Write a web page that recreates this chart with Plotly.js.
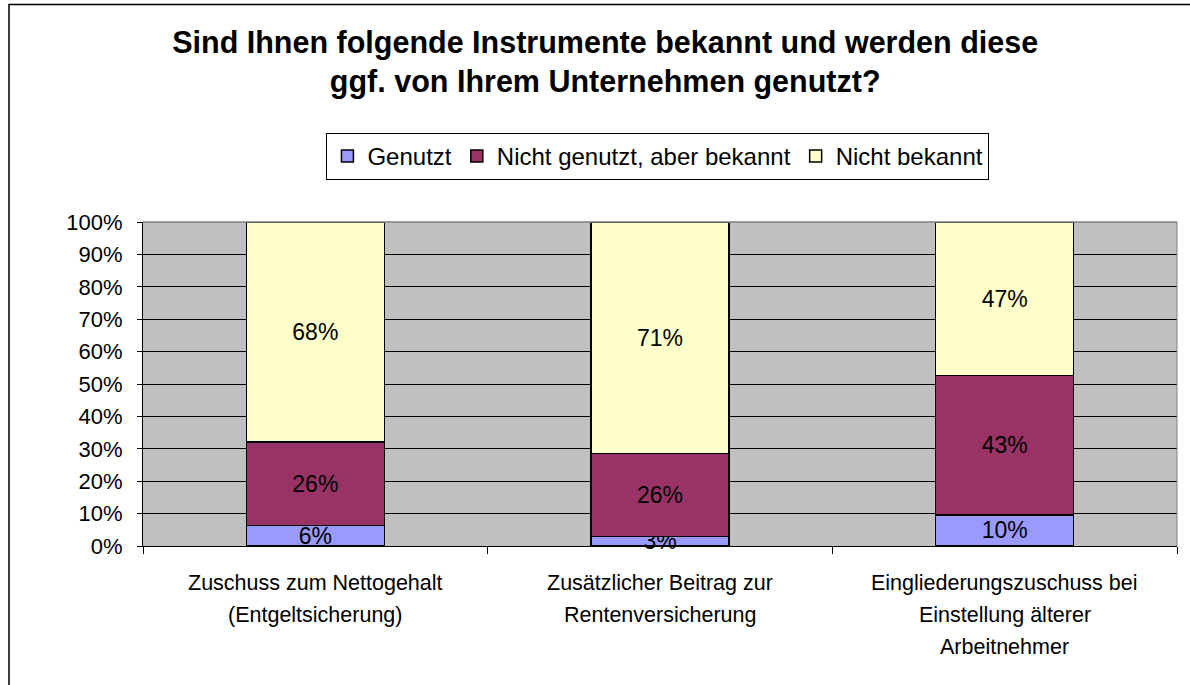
<!DOCTYPE html>
<html>
<head>
<meta charset="utf-8">
<script src="https://cdn.plot.ly/plotly-3.0.1.min.js"></script>
<style>html,body{margin:0;padding:0;background:#fff;}#chart{width:1190px;height:685px;}</style>
</head>
<body>
<div id="chart"></div>
<script>
const categories = ["Zuschuss zum Nettogehalt (Entgeltsicherung)", "Zusätzlicher Beitrag zur Rentenversicherung", "Eingliederungszuschuss bei Einstellung älterer Arbeitnehmer"];
const categoryLines = [
  ["Zuschuss zum Nettogehalt", "(Entgeltsicherung)"],
  ["Zusätzlicher Beitrag zur", "Rentenversicherung"],
  ["Eingliederungszuschuss bei", "Einstellung älterer", "Arbeitnehmer"]
];
const seriesNames = ["Genutzt", "Nicht genutzt, aber bekannt", "Nicht bekannt"];
const genutzt = [6.4, 2.9, 9.6];
const nichtGenutzt = [25.7, 25.7, 43.1];
const nichtBekannt = [67.9, 71.4, 47.3];
const yTickVals = [0,10,20,30,40,50,60,70,80,90,100];
const yTickText = ["0%","10%","20%","30%","40%","50%","60%","70%","80%","90%","100%"];
const colors = ["#9999ff", "#993366", "#ffffcc"];

const FONT = "Liberation Sans, Arial, sans-serif";
const seriesData = [genutzt, nichtGenutzt, nichtBekannt];
const traces = seriesData.map((vals, i) => ({
  type: "bar",
  name: seriesNames[i],
  x: categories,
  y: vals,
  marker: {color: colors[i], line: {color: "#000", width: 1.5}},
  texttemplate: "%{y:.0f}%",
  textposition: "inside",
  insidetextanchor: "middle",
  constraintext: "none",
  textfont: {family: FONT, size: 23, color: "#000"},
  hoverinfo: "none",
  cliponaxis: false
}));

const annotations = [];
categoryLines.forEach((lines, ci) => {
  lines.forEach((ln, li) => {
    annotations.push({
      x: categories[ci], xref: "x", y: 0, yref: "paper",
      yanchor: "middle", yshift: -37 - li * 32,
      text: ln, showarrow: false,
      font: {family: FONT, size: 21.5, color: "#000"}
    });
  });
});

const layout = {
  width: 1190, height: 685,
  margin: {l: 143, r: 13, t: 222, b: 139},
  paper_bgcolor: "#fff",
  plot_bgcolor: "#c0c0c0",
  barmode: "stack",
  bargap: 0.6,
  showlegend: true,
  title: {
    text: "<b>Sind Ihnen folgende Instrumente bekannt und werden diese<br>ggf. von Ihrem Unternehmen genutzt?</b>",
    font: {family: FONT, size: 30.5, color: "#000"},
    x: 0.447, xref: "paper", xanchor: "center",
    y: 0.923, yref: "container", yanchor: "middle"
  },
  legend: {
    orientation: "h",
    x: 0.498, xanchor: "center",
    y: 1.275, yanchor: "top",
    bordercolor: "#000", borderwidth: 1,
    font: {family: FONT, size: 24, color: "#000"},
    traceorder: "normal",
    itemwidth: 30
  },
  xaxis: {
    type: "category",
    showticklabels: false,
    ticks: "outside", ticklen: 7, tickcolor: "#000",
    tickson: "boundaries",
    showline: true, linecolor: "#000", linewidth: 1,
    showgrid: false, zeroline: false, fixedrange: true
  },
  yaxis: {
    range: [0, 100],
    tickvals: yTickVals, ticktext: yTickText,
    ticks: "outside", ticklen: 5, tickcolor: "#000",
    ticklabelstandoff: 10,
    showline: true, linecolor: "#000", linewidth: 1,
    showgrid: true, gridcolor: "#000", gridwidth: 1,
    zeroline: false,
    tickfont: {family: FONT, size: 22, color: "#000"},
    fixedrange: true
  },
  annotations: annotations,
  shapes: [
    {type: "line", xref: "paper", yref: "paper", x0: 1, x1: 1, y0: 0, y1: 1, line: {color: "#808080", width: 1}},
    {type: "line", xref: "paper", yref: "paper", x0: 0, x1: 1, y0: 1, y1: 1, line: {color: "#808080", width: 1.5}},
    {type: "rect", xref: "paper", yref: "paper", x0: -0.1296, x1: 1.2, y0: -1, y1: 1.671, line: {color: "#000", width: 1.5}, fillcolor: "rgba(0,0,0,0)", layer: "below"}
  ]
};

Plotly.newPlot("chart", traces, layout, {displayModeBar: false, staticPlot: true});
</script>
</body>
</html>
